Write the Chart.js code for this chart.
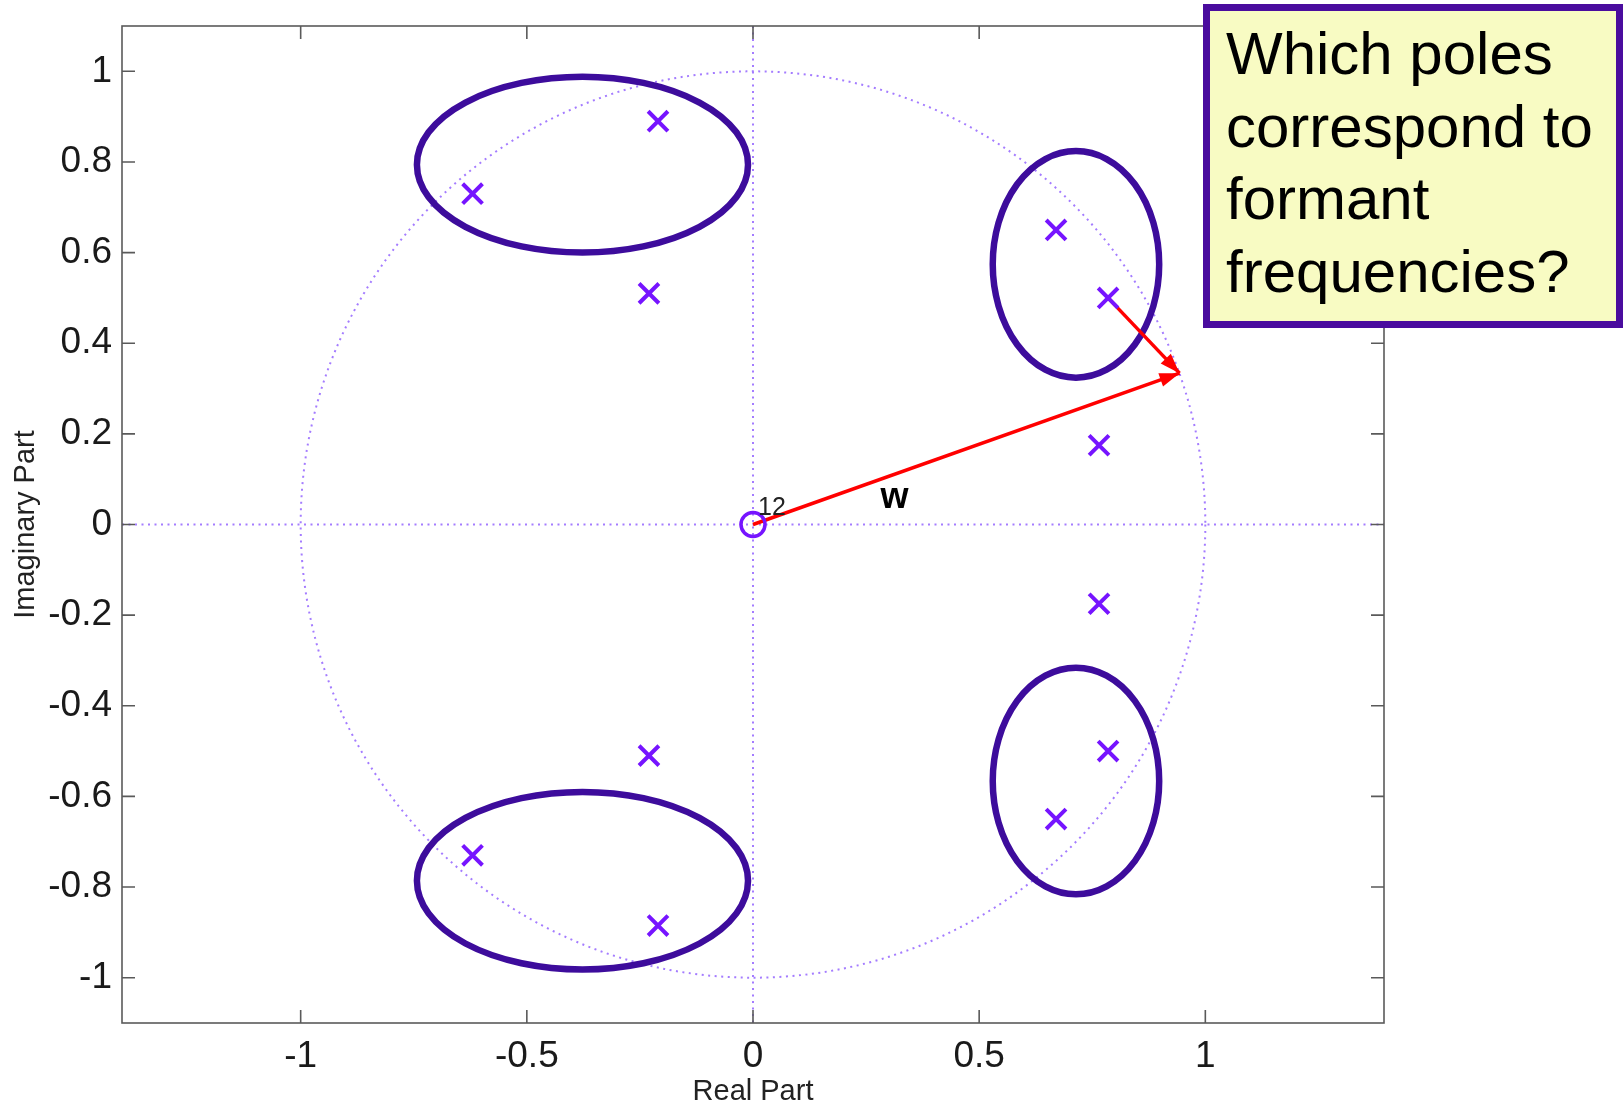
<!DOCTYPE html>
<html>
<head>
<meta charset="utf-8">
<script src="https://cdn.jsdelivr.net/npm/chart.js@4.4.1/dist/chart.umd.min.js"></script>
<style>
  body { margin: 0; background: #fff; }
  #wrap { position: relative; width: 1623px; height: 1106px; overflow: hidden; }
  #c { display: block; }
  #question {
    position: absolute; left: 1203px; top: 4px; width: 420px; height: 324px;
    box-sizing: border-box; border: 7px solid #4a0c9e; background: #f8fbc3;
    padding: 7px 0 0 16px;
    font-family: "Liberation Sans", Arial, Helvetica, sans-serif;
    font-size: 60px; line-height: 72.5px; color: #000;
  }
</style>
</head>
<body>
<div id="wrap">
  <canvas id="c" width="1623" height="1106"></canvas>
  <div id="question">Which poles<br>correspond to<br>formant<br>frequencies?</div>
</div>
<script>
// tick values
const xTicks = [-1, -0.5, 0, 0.5, 1];
const yTicks = [-1, -0.8, -0.6, -0.4, -0.2, 0, 0.2, 0.4, 0.6, 0.8, 1];

// poles (x) and zeros (o)
const poleRe = [-0.62, -0.21, -0.23, 0.67, 0.785, 0.765, 0.765, 0.785, 0.67, -0.23, -0.62, -0.21];
const poleIm = [0.73, 0.89, 0.51, 0.65, 0.50, 0.175, -0.175, -0.50, -0.65, -0.51, -0.73, -0.885];
const zeroRe = [0];
const zeroIm = [0];
const zeroMultiplicity = ['12'];

// circled pole groups (centre and half axes, in plot units)
const groupRe = [-0.377, -0.377, 0.714, 0.714];
const groupIm = [0.794, -0.786, 0.574, -0.566];
const groupHalfRe = [0.366, 0.366, 0.184, 0.184];
const groupHalfIm = [0.194, 0.196, 0.25, 0.25];

// red arrows: origin -> point on unit circle, pole -> same point
const arrowFromOrigin = [[0, 0], [0.943, 0.334]];
const arrowFromPole = [[0.785, 0.50], [0.943, 0.334]];
const wLabel = {text: 'w', x: 0.313, y: 0.036};

const FONT = '"Liberation Sans", Arial, Helvetica, sans-serif';
const pzColor = '#7614ff';
const groupColor = '#3d0c9c';
const dotColor = '#a47cff';

const toPts = (re, im) => re.map((v, i) => ({x: v, y: im[i]}));

const decorations = {
  id: 'decorations',
  beforeDatasetsDraw(chart) {
    const {ctx, chartArea: a, scales: {x, y}} = chart;
    const x0 = x.getPixelForValue(0), y0 = y.getPixelForValue(0);
    ctx.save();
    // unit circle + axis lines, dotted
    ctx.strokeStyle = dotColor;
    ctx.lineWidth = 2;
    ctx.setLineDash([2, 4.5]);
    ctx.beginPath();
    ctx.ellipse(x0, y0, x.getPixelForValue(1) - x0, y0 - y.getPixelForValue(1), 0, 0, Math.PI * 2);
    ctx.stroke();
    ctx.beginPath();
    ctx.moveTo(a.left, y0); ctx.lineTo(a.right, y0);
    ctx.moveTo(x0, a.top); ctx.lineTo(x0, a.bottom);
    ctx.stroke();
    ctx.setLineDash([]);

    // pole groups
    ctx.strokeStyle = groupColor;
    ctx.lineWidth = 6.5;
    groupRe.forEach((cx, i) => {
      const px = x.getPixelForValue(cx), py = y.getPixelForValue(groupIm[i]);
      const rx = x.getPixelForValue(cx + groupHalfRe[i]) - px;
      const ry = py - y.getPixelForValue(groupIm[i] + groupHalfIm[i]);
      ctx.beginPath();
      ctx.ellipse(px, py, rx, ry, 0, 0, Math.PI * 2);
      ctx.stroke();
    });
    ctx.restore();
  },
  afterDatasetsDraw(chart) {
    const {ctx, chartArea: a, scales: {x, y}} = chart;
    ctx.save();

    // arrow heads
    chart.data.datasets.forEach((ds, i) => {
      if (!ds.arrow) return;
      const pts = chart.getDatasetMeta(i).data;
      const p1 = pts[pts.length - 2], p2 = pts[pts.length - 1];
      const ang = Math.atan2(p2.y - p1.y, p2.x - p1.x);
      const len = 20, half = 7;
      ctx.fillStyle = ds.borderColor;
      ctx.beginPath();
      ctx.moveTo(p2.x, p2.y);
      ctx.lineTo(p2.x - len * Math.cos(ang) + half * Math.sin(ang), p2.y - len * Math.sin(ang) - half * Math.cos(ang));
      ctx.lineTo(p2.x - len * Math.cos(ang) - half * Math.sin(ang), p2.y - len * Math.sin(ang) + half * Math.cos(ang));
      ctx.closePath();
      ctx.fill();
    });

    // zero multiplicity
    ctx.fillStyle = '#222';
    ctx.font = '25px ' + FONT;
    ctx.textBaseline = 'alphabetic';
    ctx.textAlign = 'left';
    zeroRe.forEach((v, i) => {
      ctx.fillText(zeroMultiplicity[i], x.getPixelForValue(v) + 5, y.getPixelForValue(zeroIm[i]) - 10);
    });

    // w label
    ctx.fillStyle = '#000';
    ctx.font = 'bold 36px ' + FONT;
    ctx.textAlign = 'center';
    ctx.fillText(wLabel.text, x.getPixelForValue(wLabel.x), y.getPixelForValue(wLabel.y));

    // axes box with inside ticks
    ctx.strokeStyle = '#5a5a5a';
    ctx.lineWidth = 1.6;
    ctx.strokeRect(a.left, a.top, a.right - a.left, a.bottom - a.top);
    const tl = 13;
    ctx.beginPath();
    xTicks.forEach(v => {
      const px = x.getPixelForValue(v);
      ctx.moveTo(px, a.bottom); ctx.lineTo(px, a.bottom - tl);
      ctx.moveTo(px, a.top); ctx.lineTo(px, a.top + tl);
    });
    yTicks.forEach(v => {
      const py = y.getPixelForValue(v);
      ctx.moveTo(a.left, py); ctx.lineTo(a.left + tl, py);
      ctx.moveTo(a.right, py); ctx.lineTo(a.right - tl, py);
    });
    ctx.stroke();
    ctx.restore();
  }
};

const tickFont = {family: FONT, size: 37};
const titleFont = {family: FONT, size: 29, lineHeight: 1};

new Chart(document.getElementById('c'), {
  type: 'scatter',
  data: {
    datasets: [
      {
        label: 'poles',
        data: toPts(poleRe, poleIm),
        pointStyle: 'crossRot',
        pointRadius: 14,
        borderColor: pzColor,
        borderWidth: 4,
        showLine: false
      },
      {
        label: 'zeros',
        data: toPts(zeroRe, zeroIm),
        pointStyle: 'circle',
        pointRadius: 12,
        borderColor: pzColor,
        backgroundColor: 'rgba(0,0,0,0)',
        borderWidth: 3.5,
        showLine: false
      },
      {
        label: 'w',
        data: arrowFromOrigin.map(p => ({x: p[0], y: p[1]})),
        showLine: true,
        pointRadius: 0,
        borderColor: '#ff0000',
        borderWidth: 3.5,
        arrow: true
      },
      {
        label: 'pole to w',
        data: arrowFromPole.map(p => ({x: p[0], y: p[1]})),
        showLine: true,
        pointRadius: 0,
        borderColor: '#ff0000',
        borderWidth: 3.5,
        arrow: true
      }
    ]
  },
  options: {
    responsive: false,
    animation: false,
    devicePixelRatio: 1,
    layout: {padding: {top: 26, right: 239, left: 0, bottom: 0}},
    plugins: {legend: {display: false}, tooltip: {enabled: false}},
    scales: {
      x: {
        type: 'linear',
        min: -1.395,
        max: 1.395,
        grid: {display: false, drawTicks: false},
        border: {display: false},
        ticks: {font: tickFont, color: '#1a1a1a', padding: 12, callback: v => String(v)},
        afterBuildTicks: s => { s.ticks = xTicks.map(v => ({value: v})); },
        afterFit: s => { s.height = 83; s.paddingLeft = 0; s.paddingRight = 0; },
        title: {display: true, text: 'Real Part', font: titleFont, color: '#222', padding: {top: 0, bottom: 0}}
      },
      y: {
        type: 'linear',
        min: -1.1,
        max: 1.1,
        grid: {display: false, drawTicks: false},
        border: {display: false},
        ticks: {font: tickFont, color: '#1a1a1a', padding: 10, callback: v => String(v)},
        afterBuildTicks: s => { s.ticks = yTicks.map(v => ({value: v})); },
        afterFit: s => { s.width = 122; s.paddingTop = 0; s.paddingBottom = 0; },
        title: {display: true, text: 'Imaginary Part', font: titleFont, color: '#222', padding: {top: 11, bottom: 0}}
      }
    }
  },
  plugins: [decorations]
});
</script>
</body>
</html>
